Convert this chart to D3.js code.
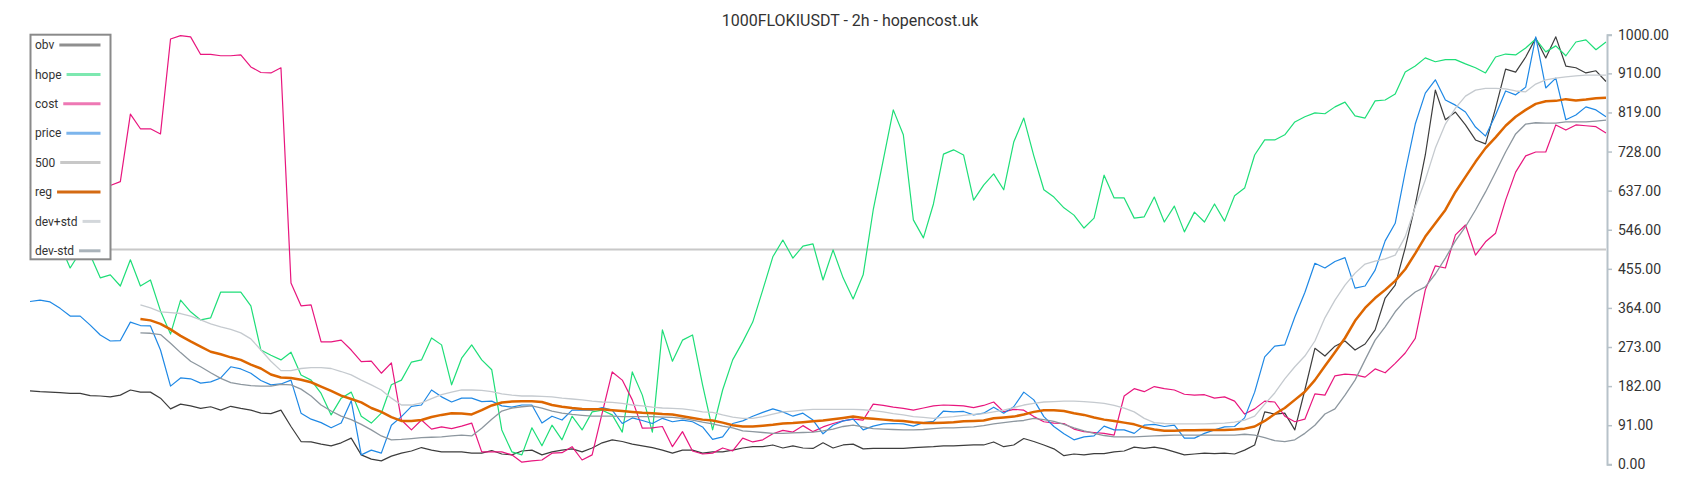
<!DOCTYPE html>
<html>
<head>
	<title>1000FLOKIUSDT - 2h - hopencost.uk</title>
	<meta charset="utf-8">
	<script src="https://d3js.org/d3.v7.min.js"></script>
	<style>
		body { margin: 0; background: #fff; }
		text { font-family: Roboto, "Noto Sans", sans-serif; }
	</style>
</head>
<body>
	<script type="text/javascript">
		var width = 1700,
			height = 500;

		// one value per 2h candle, everything scaled to 0..1000
		var obv = [171,169,168,167,165,165,160,159,157,161,
			173,168,168,154,129,140,136,130,134,126,
			135,130,126,119,118,126,88,53,52,47,
			43,50,61,22,12,8,19,26,31,39,
			33,29,29,29,26,26,32,24,22,31,
			33,22,29,33,36,29,38,50,57,53,
			47,43,39,33,26,33,33,26,29,29,
			33,38,41,41,45,38,43,38,37,50,
			38,45,47,36,37,37,37,37,39,40,
			41,43,43,44,45,45,52,41,45,60,
			53,45,36,20,24,22,25,25,29,31,
			40,37,40,36,29,22,24,26,25,26,
			24,33,45,122,117,119,80,173,270,252,
			275,287,266,280,313,387,417,504,604,720,
			871,802,820,790,755,746,829,920,913,948,
			992,946,995,927,923,911,916,891];

		var hope = [511,522,499,511,457,494,487,434,441,415,
			476,415,429,357,303,382,355,336,341,401,
			401,401,369,266,254,243,261,208,196,165,
			115,154,168,112,96,119,185,196,238,243,
			294,278,185,247,278,243,220,80,29,22,
			85,43,91,57,112,80,122,126,115,75,
			215,161,75,313,240,289,301,185,80,173,
			243,285,331,406,483,522,480,508,513,429,
			499,434,385,441,592,708,825,767,569,527,
			606,722,732,720,615,650,676,639,750,806,
			718,639,622,597,580,550,573,673,620,620,
			573,576,622,564,601,541,587,564,606,566,
			625,643,720,755,755,767,797,809,818,816,
			832,843,811,806,846,848,862,913,927,946,
			937,942,942,932,923,911,948,955,953,969,
			990,960,974,951,983,988,965,983];

		var cost = [643,648,639,641,634,639,646,646,649,658,
			815,781,781,769,990,998,995,954,954,951,
			951,953,925,912,911,923,422,369,371,285,
			285,289,266,239,240,212,236,103,80,103,
			82,87,83,89,96,29,29,29,22,5,
			8,10,26,27,41,10,22,119,215,196,
			150,84,85,88,41,76,31,24,26,38,
			31,61,52,57,71,79,75,90,76,87,
			95,101,105,103,140,137,133,130,126,131,
			136,138,137,136,132,137,145,122,128,126,
			111,99,96,95,82,76,74,72,68,159,
			176,169,181,176,173,163,161,162,154,157,
			147,117,129,147,145,112,99,105,164,161,
			206,210,208,203,222,213,235,259,293,406,
			462,457,534,557,487,518,538,615,680,718,
			727,727,790,778,790,788,786,771];

		var price = [379,382,378,363,345,345,324,301,287,288,
			331,323,322,266,182,201,199,189,192,201,
			227,222,212,195,185,187,196,119,105,97,
			85,96,148,22,33,26,91,111,135,138,
			173,157,145,154,154,146,147,136,133,138,
			138,96,112,103,126,126,126,132,126,95,
			108,102,95,107,99,103,99,87,58,64,
			95,101,112,121,129,122,112,119,103,71,
			91,101,105,80,89,94,95,94,89,97,
			100,124,122,123,115,119,133,119,134,168,
			150,111,88,71,57,64,66,89,80,80,
			72,91,93,88,91,61,61,72,80,87,
			88,108,168,250,275,278,343,400,468,457,
			472,481,410,415,452,520,561,681,792,864,
			895,848,836,820,785,764,813,869,860,878,
			995,876,899,802,813,832,825,809];

		// regression + bands need a window, so they begin at candle 11
		var bandStart = 11;

		var reg = [338,335,327,314,299,286,274,262,256,
			249,243,232,223,209,202,201,197,191,181,
			171,160,152,144,131,122,110,101,101,103,
			110,115,119,118,116,126,137,144,146,147,
			147,145,138,134,131,129,128,128,126,124,
			122,120,119,117,116,112,108,104,102,97,
			91,88,88,90,92,95,96,98,100,102,
			105,108,111,108,106,104,102,101,98,96,
			96,97,98,100,101,102,107,109,111,116,
			122,126,126,124,119,115,109,104,101,97,
			93,86,81,78,78,79,79,80,80,80,
			81,83,88,101,117,131,150,169,196,229,
			261,294,334,364,387,406,427,454,491,530,
			561,592,634,669,704,736,761,788,809,825,
			839,845,846,850,847,849,852,853];

		var devUp = [371,364,355,353,351,345,336,327,320,
			314,306,292,266,240,218,218,223,225,225,
			223,216,208,196,185,173,154,138,138,143,
			153,162,168,173,173,172,169,164,161,159,
			159,158,157,154,152,150,147,145,144,142,
			138,136,133,131,130,129,126,122,121,115,
			110,107,107,111,117,122,124,126,128,128,
			128,128,128,127,125,122,118,115,111,109,
			107,109,111,114,116,118,122,126,132,138,
			142,145,146,147,147,146,144,142,137,131,
			122,107,97,95,94,94,94,94,95,96,
			98,103,112,140,166,199,227,252,287,341,
			382,417,445,466,473,478,487,530,599,662,
			736,792,829,857,871,875,875,874,869,867,
			885,895,899,902,904,906,906,906];

		var devDown = [306,305,302,282,260,240,227,213,200,
			190,186,183,182,182,186,185,175,159,138,
			124,112,104,93,80,66,57,58,60,62,
			63,64,66,68,66,84,105,124,131,134,
			136,131,124,119,116,114,112,112,112,111,
			111,111,111,110,109,107,103,98,94,89,
			85,78,76,74,72,72,73,74,75,78,
			82,88,91,87,83,82,81,80,80,81,
			83,85,85,86,87,90,94,97,100,102,
			107,104,100,93,85,78,72,67,64,64,
			64,65,66,67,68,68,68,68,68,68,
			68,70,68,62,55,53,57,72,91,117,
			129,161,196,243,289,320,355,382,401,413,
			443,480,520,553,592,634,680,727,769,792,
			795,794,794,797,797,797,799,801];

		var level = 500;
		var yTicks = [0, 91, 182, 273, 364, 455, 546, 637, 728, 819, 910, 1000];
		var legendNames = ["obv", "hope", "cost", "price", "500", "reg", "dev+std", "dev-std"];
		var lineColors = ["#3d3d3d", "#1ede78", "#e8167e", "#1e88e5", "#c8c8c8", "#dd6600", "#c5cacf", "#8d979f"];
		var swatchColors = ["#8f8f8f", "#7de8b0", "#ee78b4", "#7cb5ec", "#c8c8c8", "#d46a12", "#d3d7db", "#aab3ba"];

		var svg = d3.select("body").append("svg")
			.attr("width", width)
			.attr("height", height);

		var xScale = d3.scaleLinear().domain([0, obv.length - 1]).range([30, 1606]);
		var yScale = d3.scaleLinear().domain([0, 1000]).range([464.3, 34.7]);

		var line = d3.line()
			.x(function(d, i) { return xScale(i); })
			.y(function(d) { return yScale(d); });

		var bandLine = d3.line()
			.x(function(d, i) { return xScale(i + bandStart); })
			.y(function(d) { return yScale(d); });

		// the horizontal 500 line
		svg.append("path")
			.attr("d", d3.line()([[xScale(0), yScale(level)], [xScale(obv.length - 1), yScale(level)]]))
			.attr("fill", "none")
			.attr("stroke", lineColors[4])
			.attr("stroke-width", 2);

		function draw(data, gen, color, w) {
			svg.append("path")
				.datum(data)
				.attr("d", gen)
				.attr("fill", "none")
				.attr("stroke", color)
				.attr("stroke-width", w)
				.attr("stroke-linejoin", "round");
		}

		draw(obv, line, lineColors[0], 1.2);
		draw(hope, line, lineColors[1], 1.2);
		draw(cost, line, lineColors[2], 1.2);
		draw(price, line, lineColors[3], 1.2);
		draw(devUp, bandLine, lineColors[6], 1.3);
		draw(devDown, bandLine, lineColors[7], 1.3);
		draw(reg, bandLine, lineColors[5], 2.5);

		// right axis
		var yAxis = d3.axisRight(yScale)
			.tickValues(yTicks)
			.tickFormat(function(d) { return d.toFixed(2); })
			.tickSize(5)
			.tickPadding(6);

		var ax = svg.append("g")
			.attr("transform", "translate(1607,0)")
			.call(yAxis);
		ax.select(".domain").attr("stroke", "#b7c2c9").attr("stroke-width", 2);
		ax.selectAll(".tick line").attr("stroke", "#b7c2c9").attr("stroke-width", 1.5);
		ax.selectAll(".tick text")
			.attr("fill", "#333")
			.style("font-size", "14px")
			.style("font-family", "Roboto, sans-serif");

		// title
		svg.append("text")
			.attr("x", 850)
			.attr("y", 26)
			.attr("text-anchor", "middle")
			.attr("fill", "#333")
			.style("font-size", "16px")
			.text("1000FLOKIUSDT - 2h - hopencost.uk");

		// legend box
		var legend = svg.append("g");
		legend.append("rect")
			.attr("x", 30.5)
			.attr("y", 34.7)
			.attr("width", 80)
			.attr("height", 224.6)
			.attr("fill", "#fff")
			.attr("stroke", "#8a8a8a")
			.attr("stroke-width", 2);

		legendNames.forEach(function(name, i) {
			var cy = 45 + i * 29.4;
			var t = legend.append("text")
				.attr("x", 35)
				.attr("y", cy)
				.attr("dy", "0.35em")
				.attr("fill", "#333")
				.style("font-size", "12px")
				.text(name);
			var end = 35 + t.node().getComputedTextLength() + 5;
			legend.append("line")
				.attr("x1", end)
				.attr("x2", 100.5)
				.attr("y1", cy)
				.attr("y2", cy)
				.attr("stroke", swatchColors[i])
				.attr("stroke-width", 3);
		});
	</script>
</body>
</html>
